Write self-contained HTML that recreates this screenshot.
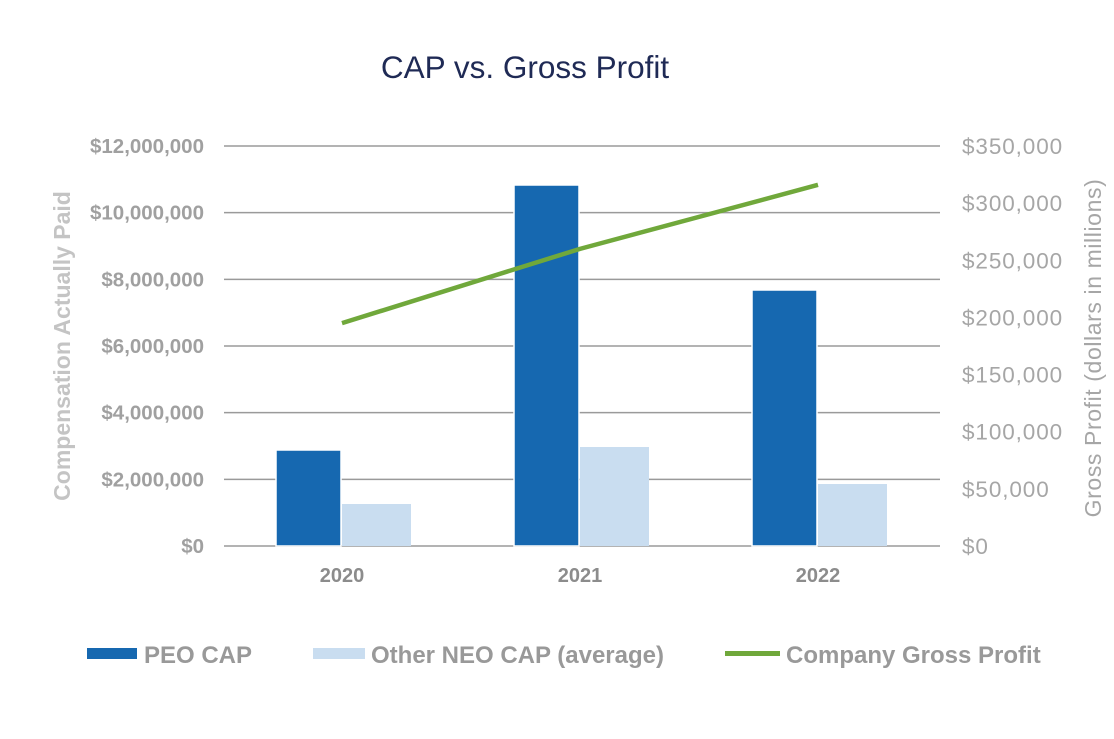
<!DOCTYPE html>
<html><head><meta charset="utf-8"><style>
body{margin:0;background:#fff;font-family:"Liberation Sans",Arial,sans-serif}
</style></head><body>
<svg id="chart" width="1114" height="734" xmlns="http://www.w3.org/2000/svg">
<rect width="1114" height="734" fill="#fff"/>
<text x="525" y="78" text-anchor="middle" font-size="31.5" fill="#1f2a55">CAP vs. Gross Profit</text>
<g id="grid"></g><g id="bars"></g><g id="line"></g><g id="axes"></g>
<text transform="translate(70,346) rotate(-90)" text-anchor="middle" font-size="23" font-weight="bold" fill="#c4c4c4">Compensation Actually Paid</text>
<text transform="translate(1101,348) rotate(-90)" text-anchor="middle" font-size="23" letter-spacing="0.6" fill="#a6a6a6">Gross Profit (dollars in millions)</text>
<g>
<rect x="87" y="648" width="50" height="11" fill="#1668b0"/>
<text x="144" y="663" font-size="24" font-weight="bold" fill="#999">PEO CAP</text>
<rect x="313" y="648" width="52" height="11" fill="#c9ddf0"/>
<text x="371" y="663" font-size="24" font-weight="bold" fill="#999">Other NEO CAP (average)</text>
<rect x="725" y="651" width="55" height="5" fill="#70a83b"/>
<text x="786" y="663" font-size="24" font-weight="bold" fill="#999">Company Gross Profit</text>
</g>
</svg>
<script>
const categories=["2020","2021","2022"];
const peoCap=[2880000,10830000,7680000];
const neoCap=[1260000,2970000,1860000];
const grossProfit=[195000,260000,316000];
const leftTicks=[0,2000000,4000000,6000000,8000000,10000000,12000000];
const rightTicks=[0,50000,100000,150000,200000,250000,300000,350000];
const NS="http://www.w3.org/2000/svg";
const x0=224,x1=940,yb=546,yt=146;
const yL=v=>yb-(v/12000000)*(yb-yt);
const yR=v=>yb-(v/350000)*(yb-yt);
const xC=i=>342+i*238;
function mk(t,a,p){const e=document.createElementNS(NS,t);for(const k in a)e.setAttribute(k,a[k]);document.getElementById(p).appendChild(e);return e;}
const fmt=v=>"$"+v.toLocaleString("en-US");
leftTicks.forEach(v=>{
 const l=mk("line",{x1:x0,x2:x1,y1:yL(v),y2:yL(v),stroke:"#9a9a9a","stroke-width":1.5},"grid");
 
 
 const t=mk("text",{x:204,y:yL(v)+7,"text-anchor":"end","font-size":20.5,"font-weight":"bold",fill:"#a0a0a0"},"axes");
 t.textContent=fmt(v);
 
 
});
rightTicks.forEach(v=>{
 const t=mk("text",{x:962,y:yR(v)+8,"font-size":22.5,"letter-spacing":0.9,fill:"#a6a6a6"},"axes");
 t.textContent=fmt(v);
 
 
});
categories.forEach((c,i)=>{
 const t=mk("text",{x:xC(i),y:582,"text-anchor":"middle","font-size":20,"font-weight":"bold",fill:"#8c8c8c"},"axes");
 t.textContent=c;
 
 
 const b=mk("rect",{x:xC(i)-66,y:yL(peoCap[i]),width:65,height:yb-yL(peoCap[i]),fill:"#1668b0",stroke:"#fff","stroke-width":1.5},"bars");
 
 
 const n=mk("rect",{x:xC(i),y:yL(neoCap[i]),width:69,height:yb-yL(neoCap[i]),fill:"#c9ddf0"},"bars");
 
 
});
const pl=mk("polyline",{points:grossProfit.map((v,i)=>xC(i)+","+yR(v)).join(" "),fill:"none",stroke:"#70a83b","stroke-width":4.5},"line");


</script>
</body></html>
